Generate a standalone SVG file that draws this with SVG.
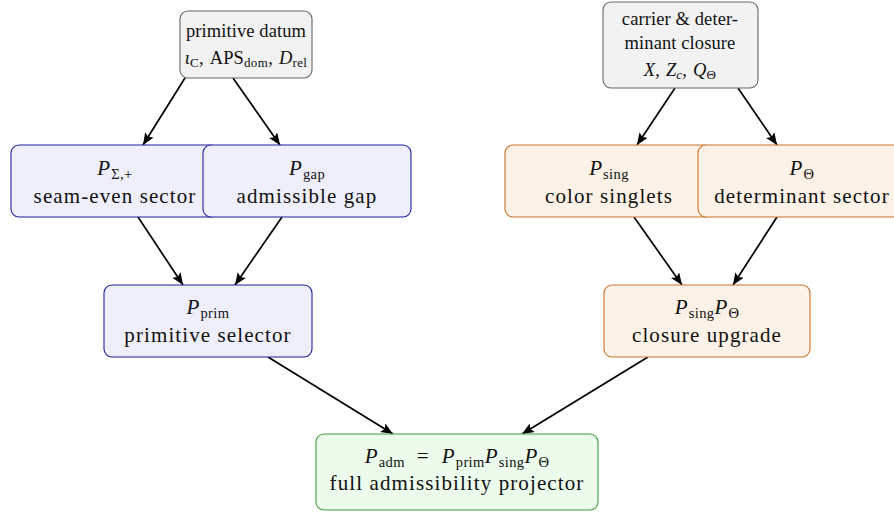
<svg xmlns="http://www.w3.org/2000/svg" width="894" height="513" viewBox="0 0 894 513">
  <style>
    text { font-family: "Liberation Serif", "DejaVu Serif", serif; font-size: 21px; letter-spacing: 1.1px; fill: #111; text-anchor: middle; }
    text.top { font-size: 18.5px; letter-spacing: 0.1px; }
    .m { font-style: italic; }
    .s { font-size: 14.5px; font-style: normal; letter-spacing: 0.4px; }
    .top .s, .top .si { font-size: 13px; }
    .si { font-size: 14px; font-style: italic; }
    .box { stroke-width: 1.1; }
    .gray { fill: #f2f2f2; stroke: #666; }
    .blue { fill: #efeffc; stroke: #1f1f9e; }
    .orange { fill: #fdf2e7; stroke: #c9732b; }
    .green { fill: #edfbec; stroke: #3f9f3f; }
    .edge { stroke: #000; stroke-width: 1.7; fill: none; marker-end: url(#head); }
  </style>
  <defs>
    <marker id="head" markerUnits="userSpaceOnUse" markerWidth="14" markerHeight="12" refX="12" refY="5" orient="auto">
      <path d="M0,0 L12,5 L0,10 L2.4,5 z" fill="#000"/>
    </marker>
  </defs>

  <!-- connectors -->
  <g id="connectors">
    <path class="edge" d="M185,78 L143,145"/>
    <path class="edge" d="M233,78 L280,145"/>
    <path class="edge" d="M675,88 L637,145"/>
    <path class="edge" d="M738,88 L777,145"/>
    <path class="edge" d="M138,217 L183,285"/>
    <path class="edge" d="M282,217 L235,285"/>
    <path class="edge" d="M634,217 L682,285"/>
    <path class="edge" d="M777,217 L733,285"/>
    <path class="edge" d="M268,357 L393,434"/>
    <path class="edge" d="M648,357 L522,434"/>
  </g>

  <!-- source: primitive datum -->
  <g id="datum">
    <rect class="box gray" x="180" y="11" width="132" height="67" rx="8"/>
    <text class="top" x="246" y="37">primitive datum</text>
    <text class="top" x="246" y="64"><tspan class="m">ι</tspan><tspan class="s" dy="3">C</tspan><tspan dy="-3">,</tspan><tspan dx="6">APS</tspan><tspan class="s" dy="3">dom</tspan><tspan dy="-3">,</tspan><tspan class="m" dx="6">D</tspan><tspan class="s" dy="3">rel</tspan></text>
  </g>

  <!-- source: carrier & determinant closure -->
  <g id="carrier">
    <rect class="box gray" x="603" y="2" width="155" height="86" rx="8"/>
    <text class="top" x="680" y="25">carrier &amp; deter-</text>
    <text class="top" x="680" y="49">minant closure</text>
    <text class="top" x="680" y="76"><tspan class="m">X</tspan><tspan>,</tspan><tspan class="m" dx="6">Z</tspan><tspan class="si" dy="3">c</tspan><tspan dy="-3">,</tspan><tspan class="m" dx="6">Q</tspan><tspan class="s" dy="3">Θ</tspan></text>
  </g>

  <!-- primitive branch -->
  <g id="seam">
    <rect class="box blue" x="11" y="145" width="208" height="72" rx="8"/>
    <text x="115" y="175"><tspan class="m">P</tspan><tspan class="s" dy="4">Σ,+</tspan></text>
    <text x="115" y="203">seam-even sector</text>
  </g>
  <g id="gap">
    <rect class="box blue" x="203" y="145" width="208" height="72" rx="8"/>
    <text x="307" y="175"><tspan class="m">P</tspan><tspan class="s" dy="4">gap</tspan></text>
    <text x="307" y="203">admissible gap</text>
  </g>
  <g id="prim">
    <rect class="box blue" x="104" y="285" width="208" height="72" rx="8"/>
    <text x="208" y="314"><tspan class="m">P</tspan><tspan class="s" dy="4">prim</tspan></text>
    <text x="208" y="342">primitive selector</text>
  </g>

  <!-- closure branch -->
  <g id="sing">
    <rect class="box orange" x="505" y="145" width="208" height="72" rx="8"/>
    <text x="609" y="175"><tspan class="m">P</tspan><tspan class="s" dy="4">sing</tspan></text>
    <text x="609" y="203">color singlets</text>
  </g>
  <g id="theta">
    <rect class="box orange" x="698" y="145" width="208" height="72" rx="8"/>
    <text x="802" y="175"><tspan class="m">P</tspan><tspan class="s" dy="4">Θ</tspan></text>
    <text x="802" y="203">determinant sector</text>
  </g>
  <g id="upgrade">
    <rect class="box orange" x="604" y="285" width="206" height="72" rx="8"/>
    <text x="707" y="314"><tspan class="m">P</tspan><tspan class="s" dy="4">sing</tspan><tspan class="m" dy="-4">P</tspan><tspan class="s" dy="4">Θ</tspan></text>
    <text x="707" y="342">closure upgrade</text>
  </g>

  <!-- result -->
  <g id="adm">
    <rect class="box green" x="316" y="434" width="282" height="76" rx="8"/>
    <text x="457" y="463"><tspan class="m">P</tspan><tspan class="s" dy="4">adm</tspan><tspan dx="12" dy="-4">=</tspan><tspan class="m" dx="12">P</tspan><tspan class="s" dy="4">prim</tspan><tspan class="m" dy="-4">P</tspan><tspan class="s" dy="4">sing</tspan><tspan class="m" dy="-4">P</tspan><tspan class="s" dy="4">Θ</tspan></text>
    <text x="457" y="490">full admissibility projector</text>
  </g>
</svg>
